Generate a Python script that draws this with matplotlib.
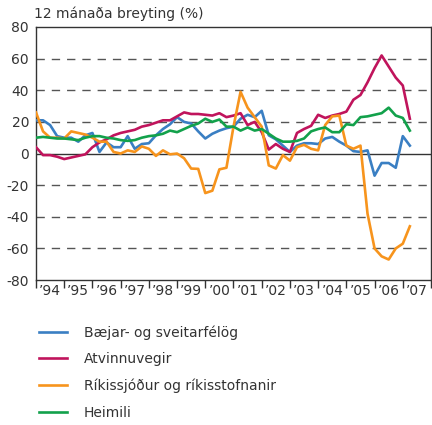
import matplotlib
matplotlib.use("Agg")
import matplotlib.pyplot as plt
import numpy as np

# quarterly observations, 1994Q1 .. 2007Q2
start_year = 1994
n_quarters = 54

baejar = [21, 21, 18, 11, 10, 10, 7.5, 11.5, 13, 1,
          7, 4, 4, 11, 3, 6, 6.5, 11.5, 15.5, 18.5,
          23, 20, 19, 14, 9.5, 12.5, 14.5, 16, 17, 22,
          24.5, 23, 27, 11.5, 9, 5, 1, 5, 6.5, 6.5,
          6, 9.5, 10.5, 7.5, 5, 1.5, 1, 2, -14, -6,
          -6, -9, 11, 5]

atvinnuvegir = [4, -1, -1, -2, -3.5, -2.5, -1.5, -0.5, 4, 7,
                9, 11.5, 13, 14, 15, 17, 18, 19.5, 21, 21,
                23.5, 26, 25, 25, 24.5, 24, 25.5, 23, 24, 25.5,
                18, 20, 13.5, 2.5, 6, 3, 1, 13, 15.5, 17.5,
                24.5, 22.5, 24, 25, 26.5, 34, 37, 45, 54, 62,
                55, 48, 43, 22]

rikissjodur = [26, 14, 10, 10, 9.5, 14, 13, 12, 10, 7.5,
               7.5, 1, 0, 2, 1, 4.5, 3, -1.5, 2, -0.5,
               0, -3, -9.5, -9.7, -25, -23.5, -10, -9, 17, 39,
               29, 23, 17, -7.5, -9.5, -1, -4.5, 4, 5.5, 3,
               2, 18, 23.5, 24, 5, 3, 5, -38, -60, -65,
               -67, -60, -57, -46]

heimili = [10, 10.5, 10, 9.5, 9.5, 9, 8.5, 10, 11, 11,
           10, 9.5, 8.5, 8, 8.5, 10, 11, 11.5, 12.5, 14.5,
           13.5, 15.5, 17.5, 19, 22, 20, 21.5, 17, 17, 14.5,
           16.5, 14.5, 15.5, 12.5, 9.5, 7.5, 7.5, 8, 9.5, 14,
           15.5, 16.5, 13.5, 13.5, 18.5, 18, 23, 23.5, 24.5, 25.5,
           29, 24, 22.5, 14.5]

labels = ["Bæjar- og sveitarfélög", "Atvinnuvegir",
          "Ríkissjóður og ríkisstofnanir", "Heimili"]
colors = ["#3a7fc3", "#c0145c", "#f7941d", "#12a14b"]
year_labels = ["\u201994", "\u201995", "\u201996", "\u201997", "\u201998", "\u201999", "\u201900",
               "\u201901", "\u201902", "\u201903", "\u201904", "\u201905", "\u201906", "\u201907"]

plt.rcParams["font.family"] = ["DejaVu Sans"]
plt.rcParams["font.size"] = 9

t = start_year + np.arange(n_quarters) / 4.0

fig = plt.figure(figsize=(4.32, 4.25), dpi=100)
ax = fig.add_axes([0.0833, 0.341, 0.9144, 0.5955])

# dashed grid lines (0 drawn solid)
for yv in [-60, -40, -20, 20, 40, 60]:
    ax.axhline(yv, color="#555555", lw=1.0, dashes=(6, 5), zorder=1)
ax.axhline(0, color="#333333", lw=1.0, zorder=1)

for series, lab, c in zip([baejar, atvinnuvegir, rikissjodur, heimili], labels, colors):
    ax.plot(t, series, color=c, lw=1.9, label=lab, zorder=3, solid_joinstyle="round")

ax.set_xlim(1994, 2008)
ax.set_ylim(-80, 80)
ax.set_yticks(range(-80, 81, 20))
ax.set_yticklabels([str(v) for v in range(-80, 81, 20)], fontsize=10)
ax.tick_params(axis="y", length=0, pad=5, colors="#333333")

ax.set_xticks(range(1994, 2009))
ax.set_xticklabels([])
ax.set_xticks(np.arange(1994.5, 2008, 1), minor=True)
ax.set_xticklabels(year_labels, minor=True, fontsize=10)
ax.tick_params(axis="x", which="major", length=6, width=1, direction="out", color="#333333")
ax.tick_params(axis="x", which="minor", length=0, pad=3, colors="#333333")

for s in ax.spines.values():
    s.set_color("#333333")
    s.set_linewidth(1.0)

fig.text(0.079, 0.967, "12 mánaða breyting (%)", fontsize=10, color="#333333", va="center")

handles, labs = ax.get_legend_handles_labels()
fig.legend(handles, labs, loc="upper left", bbox_to_anchor=(0.078, 0.248),
           frameon=False, fontsize=10, handlelength=2.0, handletextpad=1.2,
           labelspacing=0.9, borderaxespad=0, labelcolor="#333333")

plt.savefig("out.png", dpi=100)
